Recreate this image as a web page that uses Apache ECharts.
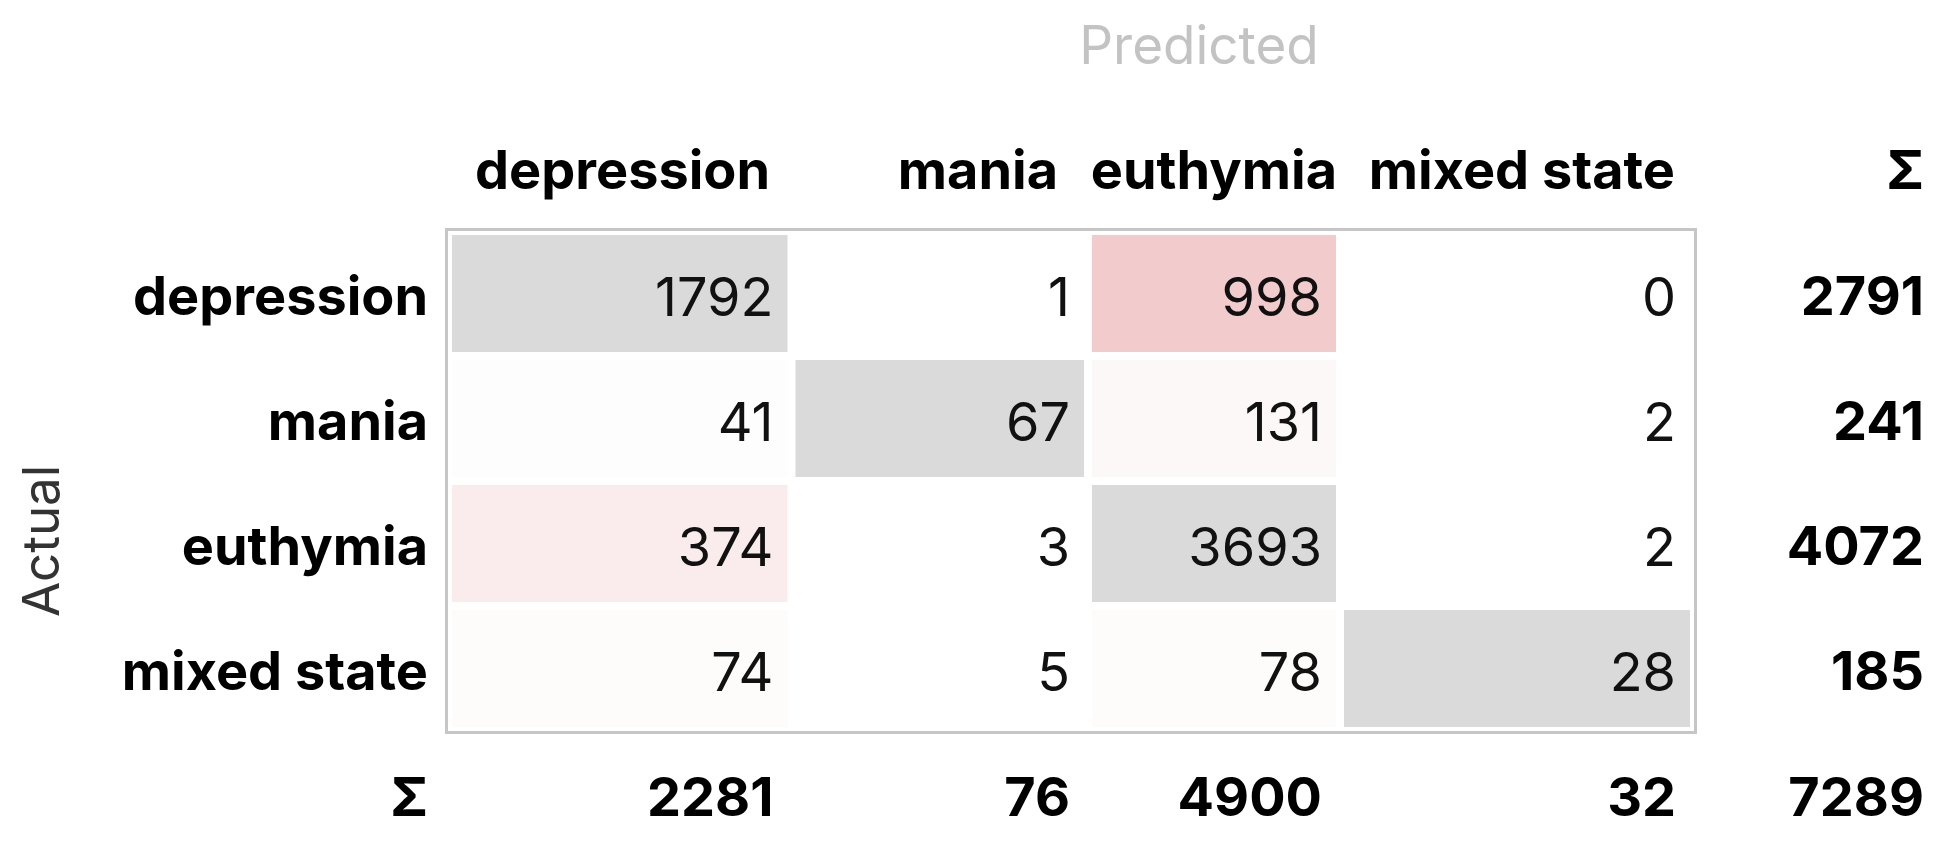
<!DOCTYPE html>
<html>
<head>
<meta charset="utf-8">
<title>Confusion matrix</title>
<script src="https://cdn.jsdelivr.net/npm/echarts@6/dist/echarts.min.js"></script>
<style>
  html, body { margin: 0; padding: 0; background: #fff; }
  #chart { width: 1957px; height: 862px; }
</style>
</head>
<body>
<div id="chart"></div>
<script>
// ---- data ----
const classes = ['depression', 'mania', 'euthymia', 'mixed state'];
const row0 = [1792, 1, 998, 0];
const row1 = [41, 67, 131, 2];
const row2 = [374, 3, 3693, 2];
const row3 = [74, 5, 78, 28];
const rowTotals = [2791, 241, 4072, 185];
const colTotals = [2281, 76, 4900, 32];
const grandTotal = 7289;

// ---- layout (px) ----
const colWidths = [343.5, 296.5, 252, 354];
const headerPad = [21.5, 30, 3, 19];
const valuePad = 18;
const font = 'Inter, "Noto Sans", sans-serif';

const matrix = [row0, row1, row2, row3];
const colStarts = [];
let acc = 0;
colWidths.forEach(w => { colStarts.push(acc); acc += w; });
const totalWidth = acc;

let maxOff = 0;
matrix.forEach((r, i) => r.forEach((v, j) => { if (i !== j && v > maxOff) maxOff = v; }));

const cellData = [];
matrix.forEach((r, i) => r.forEach((v, j) => cellData.push([j, i, v])));

function cellColor(i, j, v) {
  if (i === j) return '#dadada';
  return echarts.color.lerp(v / maxOff, ['#ffffff', '#f2cbcc']);
}

function renderCell(params, api) {
  const j = api.value(0), i = api.value(1), v = api.value(2);
  const p0 = api.coord([colStarts[j], i]);
  const p1 = api.coord([colStarts[j] + colWidths[j], i]);
  const h = api.size([0, 1])[1];
  const pad = 4;
  return {
    type: 'group',
    children: [{
      type: 'rect',
      shape: { x: p0[0] + pad, y: p0[1] - h / 2 + pad, width: p1[0] - p0[0] - 2 * pad, height: h - 2 * pad },
      style: { fill: cellColor(i, j, v) }
    }, {
      type: 'text',
      x: p1[0] - valuePad,
      y: p0[1] + 6,
      style: { text: String(v), align: 'right', verticalAlign: 'middle', font: '400 54px ' + font, fill: '#111' }
    }]
  };
}

// column headers, column sums and the frame around the matrix
function renderFrame(params, api) {
  const top = api.coord([0, 0])[1] - api.size([0, 1])[1] / 2;
  const bottom = api.coord([0, 3])[1] + api.size([0, 1])[1] / 2;
  const left = api.coord([0, 0])[0];
  const right = api.coord([totalWidth, 0])[0];
  const bold = '700 54px ' + font;
  const children = [{
    type: 'rect',
    shape: { x: left - 1.5, y: top - 1.5, width: right - left + 3, height: bottom - top + 3 },
    style: { fill: 'none', stroke: '#c6c6c6', lineWidth: 3 }
  }];
  classes.forEach((c, j) => {
    const xr = api.coord([colStarts[j] + colWidths[j], 0])[0];
    children.push({
      type: 'text', x: xr - headerPad[j], y: top - 58,
      style: { text: c, align: 'right', verticalAlign: 'middle', font: bold, fill: '#000' }
    });
    children.push({
      type: 'text', x: xr - valuePad, y: bottom + 69,
      style: { text: String(colTotals[j]), align: 'right', verticalAlign: 'middle', font: bold, fill: '#000' }
    });
  });
  children.push({
    type: 'text', x: left - 20, y: bottom + 69,
    style: { text: 'Σ', align: 'right', verticalAlign: 'middle', font: bold, fill: '#000' }
  });
  children.push({
    type: 'text', x: 1924, y: top - 58,
    style: { text: 'Σ', align: 'right', verticalAlign: 'middle', font: bold, fill: '#000' }
  });
  children.push({
    type: 'text', x: 1924, y: bottom + 69,
    style: { text: String(grandTotal), align: 'right', verticalAlign: 'middle', font: bold, fill: '#000' }
  });
  return { type: 'group', children: children };
}

const labelRich = {
  b: { fontFamily: font, fontSize: 54, fontWeight: 700, color: '#000', padding: [10, 0, 0, 0] }
};

const chart = echarts.init(document.getElementById('chart'));
chart.setOption({
  animation: false,
  grid: { left: 448, right: 263, top: 231, bottom: 131 },
  xAxis: { type: 'value', min: 0, max: totalWidth, show: false },
  yAxis: [{
    type: 'category',
    data: classes,
    inverse: true,
    axisLine: { show: false },
    axisTick: { show: false },
    axisLabel: { margin: 20, formatter: '{b|{value}}', rich: labelRich }
  }, {
    type: 'category',
    data: rowTotals.map(String),
    inverse: true,
    position: 'right',
    axisLine: { show: false },
    axisTick: { show: false },
    axisLabel: { margin: 230, align: 'right', formatter: '{b|{value}}', rich: labelRich }
  }],
  graphic: [{
    type: 'text', x: 1199, y: 48,
    style: { text: 'Predicted', align: 'center', verticalAlign: 'middle', font: '400 53px ' + font, fill: '#c3c3c3' }
  }, {
    type: 'text', x: 44, y: 541, rotation: Math.PI / 2,
    style: { text: 'Actual', align: 'center', verticalAlign: 'middle', font: '400 51px ' + font, fill: '#333' }
  }],
  series: [{
    type: 'custom',
    renderItem: renderCell,
    data: cellData,
    clip: false
  }, {
    type: 'custom',
    renderItem: renderFrame,
    data: [[0, 0]],
    clip: false,
    silent: true
  }]
});
</script>
</body>
</html>
